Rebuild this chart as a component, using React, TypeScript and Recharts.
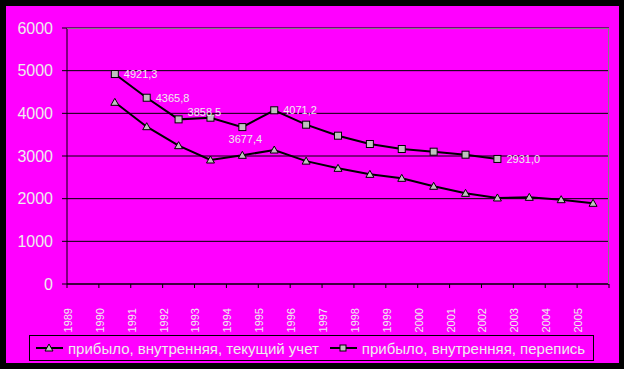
import { LineChart, Line, XAxis, YAxis, CartesianGrid, LabelList } from 'recharts';

const years = ['1989', '1990', '1991', '1992', '1993', '1994', '1995', '1996', '1997', '1998', '1999', '2000', '2001', '2002', '2003', '2004', '2005'];
const currentCount = [null, 4258, 3687, 3242, 2906, 3016, 3140, 2880, 2711, 2570, 2477, 2290, 2125, 2016, 2031, 1976, 1891];
const censusCount = [null, 4921.3, 4365.8, 3858.5, 3898, 3677.4, 4071.2, 3734, 3476, 3281, 3164, 3101, 3031, 2931.0, null, null, null];
const censusLabelled = [1, 2, 3, 5, 6, 13];
const yTicks = [0, 1000, 2000, 3000, 4000, 5000, 6000];
const seriesNames = ['прибыло, внутренняя, текущий учет', 'прибыло, внутренняя, перепись'];

const W = 613;
const H = 357;
const PLOT_LEFT = 61;
const PLOT_TOP = 22;
const PLOT_W = 542;
const PLOT_H = 256;
const STEP = PLOT_W / years.length;
const FONT = '"Liberation Sans", Arial, sans-serif';
const TEXT = '#eeeeee';
const MARKER = '#c0c0c0';

const data = years.map((year, i) => ({
  year,
  current: currentCount[i],
  census: censusCount[i],
}));

function Triangle(props: any) {
  const { cx, cy } = props;
  if (cx == null || cy == null || props.value == null) return null;
  return <polygon points={`${cx},${cy - 4} ${cx - 4},${cy + 3} ${cx + 4},${cy + 3}`} fill={MARKER} stroke="#000" strokeWidth={1} />;
}

function Square(props: any) {
  const { cx, cy } = props;
  if (cx == null || cy == null || props.value == null) return null;
  return <rect x={cx - 3.5} y={cy - 3.5} width={7} height={7} fill={MARKER} stroke="#000" strokeWidth={1} />;
}

function YearTick(props: any) {
  const { x, y, payload, index } = props;
  const axisY = y - 4;
  const tx = x - 11;
  const ty = axisY + 24;
  return (
    <g>
      <line x1={x - STEP / 2} x2={x - STEP / 2} y1={axisY} y2={axisY + 4} stroke="#000" />
      {index === years.length - 1 && (
        <line x1={x + STEP / 2} x2={x + STEP / 2} y1={axisY} y2={axisY + 4} stroke="#000" />
      )}
      <text x={tx} y={ty} transform={`rotate(-90, ${tx}, ${ty})`} textAnchor="end" fontSize={11} fontFamily={FONT} fill={TEXT}>
        {payload.value}
      </text>
    </g>
  );
}

function CensusLabel(props: any) {
  const { x, y, value, index } = props;
  if (!censusLabelled.includes(index) || value == null) return null;
  const text = Number(value).toFixed(1).replace('.', ',');
  let lx = x + 9;
  let ly = y + 4;
  let anchor: 'start' | 'middle' = 'start';
  if (index === 3) ly = y - 3;
  if (index === 5) {
    lx = x + 3;
    ly = y + 16;
    anchor = 'middle';
  }
  return (
    <text x={lx} y={ly} textAnchor={anchor} fontSize={11} fontFamily={FONT} fill={TEXT}>
      {text}
    </text>
  );
}

export default function App() {
  return (
    <div style={{ position: 'fixed', left: 0, top: 0, width: 624, height: 369, background: '#000' }}>
      <div style={{ position: 'absolute', left: 6, top: 6, width: W, height: H, background: '#ff00ff' }}>
        <LineChart width={W} height={H} data={data} margin={{ top: PLOT_TOP, right: W - PLOT_LEFT - PLOT_W, bottom: 0, left: 6 }}>
          <CartesianGrid vertical={false} stroke="#000" strokeOpacity={1} />
          <XAxis
            dataKey="year"
            interval={0}
            height={H - PLOT_TOP - PLOT_H}
            padding={{ left: STEP / 2, right: STEP / 2 }}
            tick={<YearTick />}
            tickLine={false}
            tickSize={4}
            tickMargin={0}
            axisLine={{ stroke: '#000' }}
          />
          <YAxis
            width={PLOT_LEFT - 6}
            domain={[0, 6000]}
            ticks={yTicks}
            interval={0}
            tickSize={5}
            tickMargin={9}
            tickLine={{ stroke: '#000' }}
            axisLine={{ stroke: '#000' }}
            tick={{ fill: TEXT, fontSize: 16, fontFamily: FONT }}
          />
          <Line dataKey="current" name={seriesNames[0]} stroke="#000" strokeWidth={2} dot={<Triangle />} isAnimationActive={false} connectNulls={false} />
          <Line dataKey="census" name={seriesNames[1]} stroke="#000" strokeWidth={2} dot={<Square />} isAnimationActive={false} connectNulls={false}>
            <LabelList dataKey="census" content={<CensusLabel />} />
          </Line>
        </LineChart>
        <div style={{ position: 'absolute', left: PLOT_LEFT, top: PLOT_TOP, width: PLOT_W, height: PLOT_H, borderTop: '1px solid #808080', borderRight: '1px solid #808080', boxSizing: 'border-box', pointerEvents: 'none', marginTop: -0.5 }} />
        <div style={{ position: 'absolute', left: 23, top: 329, width: 565, height: 26, border: '1px solid #000', boxSizing: 'border-box', display: 'flex', alignItems: 'center', fontFamily: FONT, fontSize: 15, color: TEXT, whiteSpace: 'nowrap' }}>
          <svg width={30} height={12} style={{ marginLeft: 5 }}>
            <line x1={1} x2={28} y1={6} y2={6} stroke="#000" strokeWidth={2} />
            <polygon points="14,2 10,9 18,9" fill={MARKER} stroke="#000" strokeWidth={1} />
          </svg>
          <span style={{ marginLeft: 3 }}>{seriesNames[0]}</span>
          <svg width={30} height={12} style={{ marginLeft: 10 }}>
            <line x1={1} x2={28} y1={6} y2={6} stroke="#000" strokeWidth={2} />
            <rect x={11} y={3} width={6} height={6} fill={MARKER} stroke="#000" strokeWidth={1} />
          </svg>
          <span style={{ marginLeft: 3 }}>{seriesNames[1]}</span>
        </div>
      </div>
    </div>
  );
}
